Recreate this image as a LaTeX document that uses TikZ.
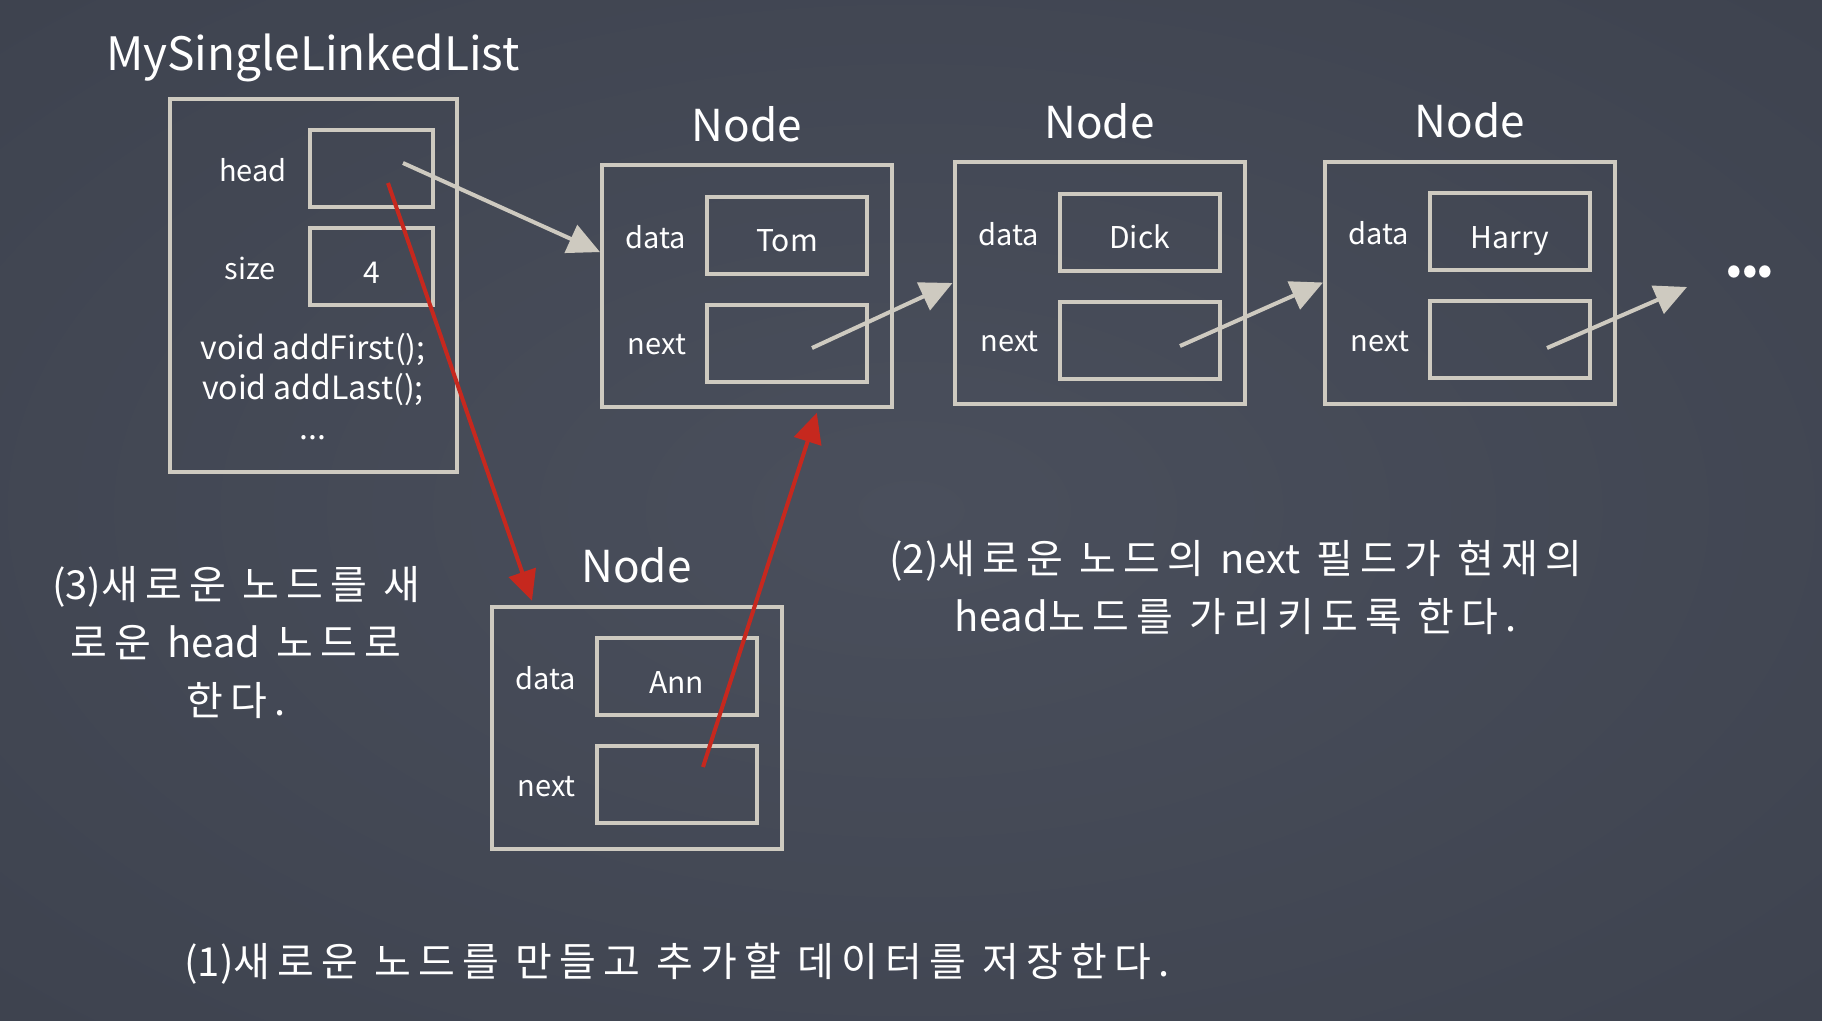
\documentclass[tikz,border=0pt]{standalone}
\usepackage{fontspec}
\setmainfont{Noto Sans CJK KR}
\usetikzlibrary{arrows.meta}

\definecolor{bginner}{RGB}{74,79,92}
\definecolor{bgmid}{RGB}{62,67,79}
\definecolor{bgouter}{RGB}{36,39,47}
\definecolor{chalk}{RGB}{206,202,192}
\definecolor{chalkred}{RGB}{198,40,30}
\pgfdeclareradialshading{board}{\pgfpoint{0bp}{0bp}}{color(0bp)=(bginner); color(35bp)=(bgmid); color(72bp)=(bgouter)}
\newcommand{\latword}[1]{{\addfontfeatures{LetterSpace=0}#1}}

\begin{document}
\begin{tikzpicture}[x=1pt, y=-1pt,
    box/.style={draw=chalk, line width=4pt, inner sep=0pt},
    outer/.style={box, minimum width=290pt, minimum height=242pt},
    field/.style={box, minimum width=160pt, minimum height=77pt, text height=33pt, text depth=0pt,
        text=white, font=\fontsize{30}{36}\selectfont},
    fieldname/.style={text=white, font=\fontsize{29}{34}\selectfont},
    title/.style={text=white, font=\fontsize{44}{52}\selectfont},
    note/.style={text=white, align=center, font=\fontsize{40}{58}\selectfont\addfontfeatures{LetterSpace=18}},
    ptr/.style={draw=chalk, line width=4pt, -{Triangle[length=32pt,width=30pt]}},
    redptr/.style={draw=chalkred, line width=4pt, -{Triangle[length=30pt,width=28pt]}, shorten >=4pt}
  ]
    \shade[shading=board] (0,0) rectangle (1822,1020);
    \useasboundingbox (0,0) rectangle (1822,1020);

    % the list object
    \node[title, font=\fontsize{46}{54}\selectfont] (list-title) at (313,58) {MySingleLinkedList};
    \node[box, minimum width=287pt, minimum height=373pt] (list) at (313.5,285.5) {};
    \node[fieldname] (list-hlabel) at (253,170) {head};
    \node[box, minimum width=123pt, minimum height=77pt] (head) at (371.5,168.5) {};
    \node[fieldname] (list-slabel) at (250,268) {size};
    \node[field, minimum width=123pt] (size) at (371.5,266.5) {4};
    \node[text=white, align=center, font=\fontsize{32}{40}\selectfont] (methods) at (313,387)
        {void addFirst();\\void addLast();\\...};

    % the nodes
    \foreach \n/\cx/\cy/\val in {tom/747/286/Tom, dick/1099.5/283/Dick, harry/1470/282.5/Harry, ann/636.5/727.5/Ann} {
        \node[title] (\n-title) at (\cx,\cy-162) {Node};
        \node[outer] (\n) at (\cx,\cy) {};
        \node[field] (\n-data) at (\cx+40,\cy-51) {\val};
        \node[field] (\n-next) at (\cx+40,\cy+57) {};
        \node[fieldname] (\n-dlabel) at (\cx-91,\cy-49) {data};
        \node[fieldname] (\n-nlabel) at (\cx-90,\cy+59) {next};
    }
    \node[text=white, font=\fontsize{46}{50}\selectfont] (more) at (1750,276) {•••};

    % pointers
    \coordinate (head-ptr) at (403,163);
    \coordinate (head-red) at (388,183);
    \coordinate (tom-ptr) at (812,348);
    \coordinate (dick-ptr) at (1180,346);
    \coordinate (harry-ptr) at (1547,348);
    \coordinate (harry-end) at (1687,287);
    \coordinate (ann-ptr) at (703,767);

    \draw[ptr] (head-ptr) -- (tom.167);
    \draw[ptr] (tom-ptr) -- (dick.west);
    \draw[ptr] (dick-ptr) -- (harry.west);
    \draw[ptr] (harry-ptr) -- (harry-end);
    \draw[redptr] (head-red) -- (ann.130);
    \draw[redptr] (ann-ptr) -- (tom.300);

    % steps
    \node[note] (step3) at (236,643) {\latword{(3)}새로운 노드를 새\\로운 \latword{head} 노드로\\한다.};
    \node[note] (step2) at (1236,588) {\latword{(2)}새로운 노드의 \latword{next} 필드가 현재의\\\latword{head}노드를 가리키도록 한다.};
    \node[note] (step1) at (677,964) {\latword{(1)}새로운 노드를 만들고 추가할 데이터를 저장한다.};
\end{tikzpicture}
\end{document}
